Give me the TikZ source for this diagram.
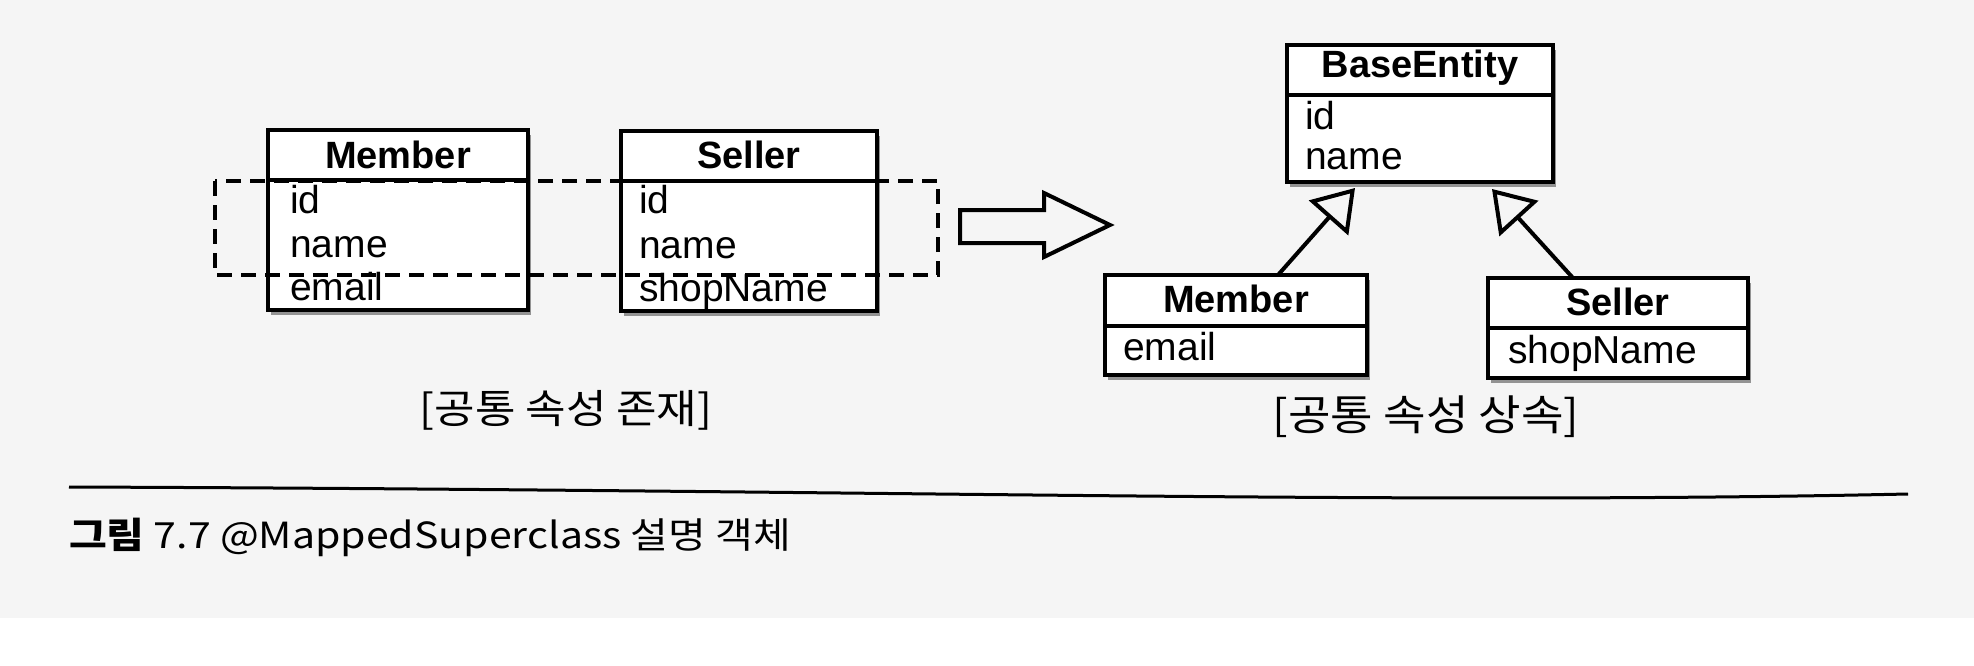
\documentclass[tikz,border=0pt]{standalone}
\usepackage{fontspec}
\setmainfont{Liberation Sans}
\newfontfamily\kr{Noto Sans CJK KR}
\usetikzlibrary{shadows,arrows.meta}
\tikzset{
  cls/.style={draw, line width=4pt, fill=white, anchor=north west, inner sep=0pt, outer sep=0pt,
    drop shadow={shadow xshift=3pt, shadow yshift=-5pt, opacity=0.4, fill=black}},
  ttl/.style={anchor=base, font=\fontsize{38}{38}\selectfont\bfseries, inner sep=0pt},
  attr/.style={anchor=base west, font=\fontsize{39}{39}\selectfont, inner sep=0pt},
  hdr/.style={line width=4.5pt},
  inh/.style={line width=4pt, -{Triangle[open, length=40pt, width=52pt, line width=4pt]}},
  grp/.style={line width=4pt, dash pattern=on 15pt off 9pt},
  sub/.style={font=\kr\fontsize{40}{40}\selectfont, inner sep=0pt},
  blockarrow/.style={line width=4pt, line join=miter}
}
\begin{document}
\begin{tikzpicture}[x=1pt,y=-1pt]
\useasboundingbox (0,0) rectangle (1974,666);
\fill[gray!8] (0,0) rectangle (1974,618);
\fill[white] (0,618) rectangle (1974,666);

% ---- left: common attributes ----
\node[cls, minimum width=260pt, minimum height=180pt] (m1) at (268,130) {};
\draw[hdr] (m1.west |- 0,180) -- (m1.east |- 0,180);
\node[ttl] (m1t) at (398,168) {Member};
\node[attr] (m1a) at (290,213) {id};
\node[attr] (m1b) at (290,257) {name};
\node[attr] (m1c) at (290,300) {email};

\node[cls, minimum width=256pt, minimum height=180pt] (s1) at (621,131) {};
\draw[hdr] (s1.west |- 0,181) -- (s1.east |- 0,181);
\node[ttl] (s1t) at (749,169) {Seller};
\node[attr] (s1a) at (639,214) {id};
\node[attr] (s1b) at (639,258) {name};
\node[attr] (s1c) at (639,301) {shopName};

\draw[grp] (215,181) rectangle (938,275);

\node[sub] (c1) at (566,410) {\scalebox{1.1}[1]{[공통 속성 존재]}};

% ---- block arrow ----
\draw[blockarrow] (960,210) -- (1044,210) -- (1044,193) -- (1110,225) -- (1044,257) -- (1044,243) -- (960,243) -- cycle;

% ---- right: inheritance ----
\node[cls, minimum width=266pt, minimum height=137pt] (be) at (1287,45) {};
\draw[hdr] (be.west |- 0,95) -- (be.east |- 0,95);
\node[ttl] (bet) at (1420,78) {BaseEntity};
\node[attr] (bea) at (1305,130) {id};
\node[attr] (beb) at (1305,170) {name};

\node[cls, minimum width=262pt, minimum height=100pt] (m2) at (1105,275) {};
\draw[hdr] (m2.west |- 0,326) -- (m2.east |- 0,326);
\node[ttl] (m2t) at (1236,312) {Member};
\node[attr] (m2a) at (1123,360) {email};

\node[cls, minimum width=260pt, minimum height=100pt] (s2) at (1488,278) {};
\draw[hdr] (s2.west |- 0,328) -- (s2.east |- 0,328);
\node[ttl] (s2t) at (1618,315) {Seller};
\node[attr] (s2a) at (1508,363) {shopName};

\coordinate (tipl) at ([xshift=-65pt,yshift=-6pt]be.south);
\coordinate (tipr) at ([xshift=72pt,yshift=-7pt]be.south);
\draw[inh] ([xshift=42pt]m2.north) -- (tipl);
\draw[inh] ([xshift=-45pt]s2.north) -- (tipr);

\node[sub, font=\kr\fontsize{42}{42}\selectfont] (c2) at (1426,417) {\scalebox{1.1}[1]{[공통 속성 상속]}};

% ---- rule and caption ----
\draw[line width=3pt] (69,487) .. controls (900,490) and (1400,505) .. (1908,494);
\node[anchor=base west, font=\kr\fontsize{36}{36}\selectfont, inner sep=0pt] (cap) at (69,548) {\scalebox{1.14}[1]{{\bfseries 그림} 7.7 @MappedSuperclass 설명 객체}};
\end{tikzpicture}
\end{document}
